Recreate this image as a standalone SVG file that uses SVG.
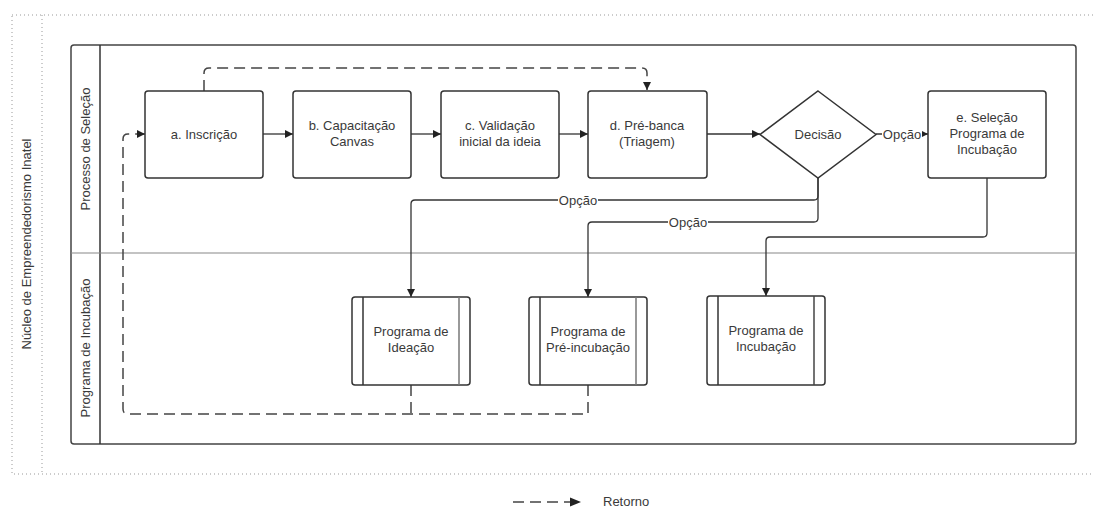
<svg xmlns="http://www.w3.org/2000/svg" width="1094" height="507" viewBox="0 0 1094 507">
<style>
text{font-family:"Liberation Sans",Arial,sans-serif;font-size:13px;fill:#3a3a3a;}
.node{fill:#fff;stroke:#333;stroke-width:1.5;}
.conn{fill:none;stroke:#333;stroke-width:1.3;}
.dash{fill:none;stroke:#444;stroke-width:1.5;stroke-dasharray:11,6;}
.dot{fill:none;stroke:#999;stroke-width:1;stroke-dasharray:1,3;}
.lbl{fill:#fff;}
</style>
<defs>
<marker id="ah" viewBox="0 0 10 10" refX="10" refY="5" markerWidth="10" markerHeight="8" markerUnits="userSpaceOnUse" orient="auto">
<path d="M0,0 L10,5 L0,10 z" fill="#222"/>
</marker>
</defs>
<rect width="1094" height="507" fill="#fff"/>

<g id="pool">
<rect class="dot" x="12" y="15" width="1100" height="459"/>
<line class="dot" x1="42" y1="15" x2="42" y2="474"/>
<text transform="translate(31,244) rotate(-90)" text-anchor="middle">Núcleo de Empreendedorismo Inatel</text>
<rect x="71" y="45" width="1005" height="399" rx="3" fill="none" stroke="#444" stroke-width="1.5"/>
<line x1="100" y1="45" x2="100" y2="444" stroke="#333" stroke-width="1.5"/>
<line x1="71" y1="253" x2="1076" y2="253" stroke="#888" stroke-width="1.2"/>
</g>
<g id="lane-selecao">
<text transform="translate(90,149) rotate(-90)" text-anchor="middle">Processo de Seleção</text>
</g>
<g id="lane-incubacao">
<text transform="translate(90,348) rotate(-90)" text-anchor="middle">Programa de Incubação</text>
</g>

<g id="connectors">
<line class="conn" x1="263" y1="134" x2="293" y2="134" marker-end="url(#ah)"/>
<line class="conn" x1="411" y1="134" x2="441" y2="134" marker-end="url(#ah)"/>
<line class="conn" x1="559" y1="134" x2="588" y2="134" marker-end="url(#ah)"/>
<line class="conn" x1="707" y1="134" x2="760" y2="134" marker-end="url(#ah)"/>
<line class="conn" x1="876" y1="134" x2="928" y2="134" marker-end="url(#ah)"/>
<path class="conn" d="M818,178 V196 Q818,200 814,200 H415 Q411,200 411,204 V297" marker-end="url(#ah)"/>
<path class="conn" d="M818,178 V218 Q818,222 814,222 H592 Q588,222 588,226 V297" marker-end="url(#ah)"/>
<path class="conn" d="M987,178 V233 Q987,237 983,237 H770 Q766,237 766,241 V296" marker-end="url(#ah)"/>
<path class="dash" d="M204,91 V73 Q204,68 209,68 H642 Q647,68 647,73 V90" marker-end="url(#ah)"/>
<path class="dash" d="M411,385 V414"/>
<path class="dash" d="M588,385 V414 H128 Q123,414 123,409 V139 Q123,134 128,134 H145" marker-end="url(#ah)"/>
<rect class="lbl" x="558" y="192" width="40" height="14"/>
<text x="578" y="204.5" text-anchor="middle">Opção</text>
<rect class="lbl" x="668" y="214" width="40" height="14"/>
<text x="688" y="226.5" text-anchor="middle">Opção</text>
<rect class="lbl" x="882" y="126" width="40" height="14"/>
<text x="902" y="138.5" text-anchor="middle">Opção</text>
</g>

<g id="a-inscricao">
<rect class="node" x="145" y="91" width="118" height="87" rx="3"/>
<text x="204" y="138.5" text-anchor="middle">a. Inscrição</text>
</g>
<g id="b-capacitacao">
<rect class="node" x="293" y="91" width="118" height="87" rx="3"/>
<text x="352" y="130" text-anchor="middle">b. Capacitação</text>
<text x="352" y="146" text-anchor="middle">Canvas</text>
</g>
<g id="c-validacao">
<rect class="node" x="441" y="91" width="118" height="87" rx="3"/>
<text x="500" y="130" text-anchor="middle">c. Validação</text>
<text x="500" y="146" text-anchor="middle">inicial da ideia</text>
</g>
<g id="d-prebanca">
<rect class="node" x="588" y="91" width="119" height="87" rx="3"/>
<text x="647" y="130" text-anchor="middle">d. Pré-banca</text>
<text x="647" y="146" text-anchor="middle">(Triagem)</text>
</g>
<g id="decisao">
<path class="node" d="M818,91 L876,134.5 L818,178 L760,134.5 z"/>
<text x="818" y="138.5" text-anchor="middle">Decisão</text>
</g>
<g id="e-selecao">
<rect class="node" x="928" y="91" width="118" height="87" rx="3"/>
<text x="987" y="122" text-anchor="middle">e. Seleção</text>
<text x="987" y="138" text-anchor="middle">Programa de</text>
<text x="987" y="154" text-anchor="middle">Incubação</text>
</g>

<g id="programa-ideacao">
<rect class="node" x="352" y="297" width="118" height="88" rx="3"/>
<line x1="363" y1="297" x2="363" y2="385" stroke="#333" stroke-width="1.5"/>
<line x1="459" y1="297" x2="459" y2="385" stroke="#777" stroke-width="1.5"/>
<text x="411" y="336" text-anchor="middle">Programa de</text>
<text x="411" y="352" text-anchor="middle">Ideação</text>
</g>
<g id="programa-preincubacao">
<rect class="node" x="529" y="297" width="118" height="88" rx="3"/>
<line x1="540" y1="297" x2="540" y2="385" stroke="#333" stroke-width="1.5"/>
<line x1="636" y1="297" x2="636" y2="385" stroke="#777" stroke-width="1.5"/>
<text x="588" y="336" text-anchor="middle">Programa de</text>
<text x="588" y="352" text-anchor="middle">Pré-incubação</text>
</g>
<g id="programa-incubacao">
<rect class="node" x="707" y="296" width="118" height="89" rx="3"/>
<line x1="718" y1="296" x2="718" y2="385" stroke="#333" stroke-width="1.5"/>
<line x1="814" y1="296" x2="814" y2="385" stroke="#444" stroke-width="1.5"/>
<text x="766" y="335" text-anchor="middle">Programa de</text>
<text x="766" y="351" text-anchor="middle">Incubação</text>
</g>

<g id="legend">
<line class="dash" x1="513" y1="502" x2="570" y2="502" stroke-dasharray="9,7"/>
<path d="M570,497.5 L581,502 L570,506.5 z" fill="#222"/>
<text x="603" y="506" font-size="11">Retorno</text>
</g>
</svg>
